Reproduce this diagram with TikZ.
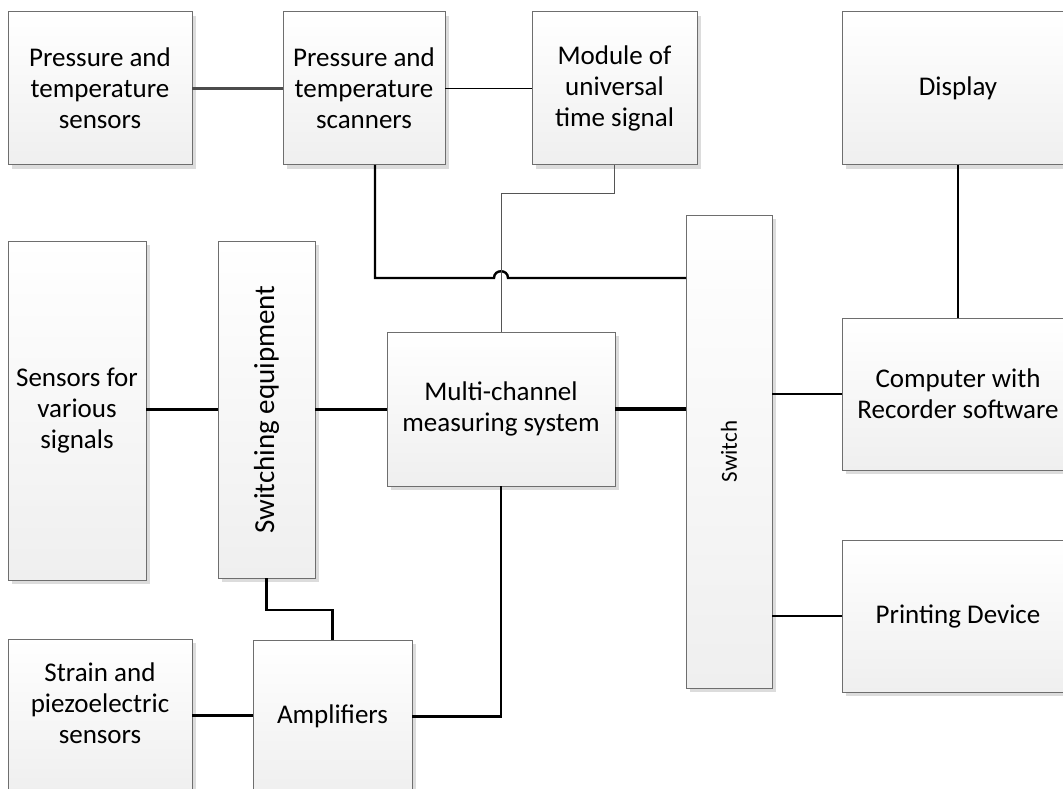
\documentclass[tikz,border=0pt]{standalone}
\usepackage{fontspec}
\setmainfont{Carlito}
\usepackage{tikz}
\usetikzlibrary{shadows}
\usetikzlibrary{calc}
\definecolor{boxline}{HTML}{6E6E6E}
\definecolor{boxgray}{HTML}{EFEFEF}
\definecolor{shadowgray}{HTML}{DCDCDC}
\definecolor{wiregray}{HTML}{555555}
\tikzset{
    unit/.style={draw=boxline, line width=1pt, top color=white, bottom color=boxgray,
        drop shadow={shadow xshift=4pt, shadow yshift=-4pt, fill=shadowgray, opacity=1},
        inner sep=0pt, outer sep=0pt, align=center,
        font=\fontsize{27}{31}\selectfont},
    wire/.style={line width=2.4pt, black},
    thinwire/.style={line width=1pt, wiregray},
}

\begin{document}
\begin{tikzpicture}[x=1pt, y=-1pt]
    \useasboundingbox (0, 0) rectangle (1063, 789);
    \clip (0, 0) rectangle (1063, 789);
    \node[unit, minimum width=184, minimum height=153] (ptsens) at (100, 88.5)
        {Pressure and\\temperature\\sensors};
    \node[unit, minimum width=162, minimum height=153] (ptscan) at (364, 88.5)
        {Pressure and\\temperature\\scanners};
    \node[unit, minimum width=165, minimum height=153] (module) at (614.5, 88.5)
        {Module of\\universal\\time signal};
    \node[unit, minimum width=232, minimum height=153] (display) at (958, 88.5) {Display};
    \node[unit, minimum width=138, minimum height=339] (varsens) at (77, 410.5)
        {Sensors for\\various\\signals};
    \node[unit, rotate=90, minimum width=337, minimum height=97,
        font=\fontsize{29}{33}\selectfont] (switching) at (266.5, 409.5)
        {Switching equipment};
    \node[unit, minimum width=228, minimum height=154] (mcms) at (501, 409)
        {Multi-channel\\measuring system};
    \node[unit, rotate=90, minimum width=473, minimum height=86,
        font=\fontsize{23}{28}\selectfont] (switch) at (729, 451.5) {Switch};
    \node[unit, minimum width=232, minimum height=152] (computer) at (958, 394)
        {Computer with\\Recorder software};
    \node[unit, minimum width=232, minimum height=152] (printer) at (958, 616)
        {Printing Device};
    \node[unit, minimum width=184, minimum height=153,
        label={[name=strainlbl, yshift=12pt, align=center, font=\fontsize{27}{31}\selectfont]center:Strain and\\piezoelectric\\sensors}]
        (strain) at (100, 715.5) {};
    \node[unit, minimum width=159, minimum height=153] (amp) at (332.5, 716.5) {Amplifiers};

    \coordinate (jmp) at (501, 278);
    \coordinate (mbend) at (501, 193);
    \draw[line width=3pt, wiregray!90!black] (ptsens.east) -- (ptsens.east -| ptscan.west);
    \draw[thinwire, black] (ptscan.east) -- (ptscan.east -| module.west);
    \draw[wire] ([xshift=11pt]ptscan.south) |- ([xshift=-7pt]jmp)
        .. controls ([shift={(-7pt,9pt)}]jmp) and ([shift={(7pt,9pt)}]jmp) .. ([xshift=7pt]jmp)
        -- (jmp -| switch.north);
    \draw[thinwire] (module.south) |- (mbend) -- (mcms.north);
    \draw[wire] (switching.north -| varsens.east) -- (switching.north);
    \draw[wire] (switching.south) -- (switching.south -| mcms.west);
    \draw[line width=4.5pt] (mcms.east) -- (mcms.east -| switch.north);
    \draw[wire] (computer.west -| switch.south) -- (computer.west);
    \draw[wire] (printer.west -| switch.south) -- (printer.west);
    \draw[wire] (display.south) -- (computer.north);
    \draw[wire] (switching.west) -- ++(0, 32) -| (amp.north);
    \draw[wire] (strain.east) -- (strain.east -| amp.west);
    \draw[wire] (amp.east) -| (mcms.south);
\end{tikzpicture}
\end{document}
